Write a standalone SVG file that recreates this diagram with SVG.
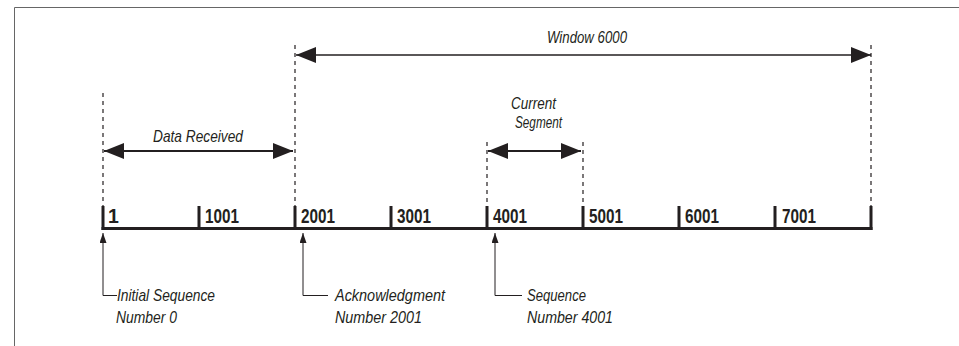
<svg xmlns="http://www.w3.org/2000/svg" width="959" height="346" viewBox="0 0 959 346">
<style>
.lbl{font-family:"Liberation Sans Narrow","Liberation Sans",Arial,sans-serif;font-style:italic;font-size:16.5px;fill:#231f20}
.num{font-family:"Liberation Sans Narrow","Liberation Sans",Arial,sans-serif;font-weight:bold;font-size:19.5px;fill:#231f20}
.dash{stroke:#231f20;stroke-width:1.2;stroke-dasharray:4,4;fill:none}
.span{stroke:#231f20;stroke-width:2;fill:none;marker-start:url(#big);marker-end:url(#big)}
.ptr{stroke:#231f20;stroke-width:1;fill:none;marker-start:url(#small)}
.tick{stroke:#231f20;stroke-width:3;fill:none}
</style>
<defs>
<marker id="big" markerUnits="userSpaceOnUse" markerWidth="20" markerHeight="16" refX="20" refY="8" orient="auto-start-reverse" viewBox="0 0 20 16">
<path d="M0,0 L20,8 L0,16 z" fill="#231f20"/>
</marker>
<marker id="small" markerUnits="userSpaceOnUse" markerWidth="10" markerHeight="7" refX="10" refY="3.5" orient="auto-start-reverse" viewBox="0 0 10 7">
<path d="M0,0 L10,3.5 L0,7 z" fill="#231f20"/>
</marker>
</defs>
<rect width="959" height="346" fill="#fff"/>
<path d="M14.5,346 V7.5 H959" stroke="#666" stroke-width="1" fill="none"/>
<g id="guides">
<line class="dash" x1="103" y1="93" x2="103" y2="206"/>
<line class="dash" x1="295" y1="45" x2="295" y2="206"/>
<line class="dash" x1="487" y1="142" x2="487" y2="206"/>
<line class="dash" x1="583" y1="142" x2="583" y2="206"/>
<line class="dash" x1="871" y1="45" x2="871" y2="206"/>
</g>
<g id="axis">
<line x1="101.5" y1="228.5" x2="872.5" y2="228.5" stroke="#231f20" stroke-width="3"/>
<path class="tick" d="M103,206V230 M199,206V230 M295,206V230 M391,206V230 M487,206V230 M583,206V230 M679,206V230 M775,206V230 M871,206V230"/>
<text class="num" x="108" y="222.5">1</text>
<text class="num" x="205" y="222.5" textLength="34" lengthAdjust="spacingAndGlyphs">1001</text>
<text class="num" x="301" y="222.5" textLength="34" lengthAdjust="spacingAndGlyphs">2001</text>
<text class="num" x="397" y="222.5" textLength="34" lengthAdjust="spacingAndGlyphs">3001</text>
<text class="num" x="493" y="222.5" textLength="34" lengthAdjust="spacingAndGlyphs">4001</text>
<text class="num" x="589" y="222.5" textLength="34" lengthAdjust="spacingAndGlyphs">5001</text>
<text class="num" x="685" y="222.5" textLength="34" lengthAdjust="spacingAndGlyphs">6001</text>
<text class="num" x="782" y="222.5" textLength="34" lengthAdjust="spacingAndGlyphs">7001</text>
</g>
<g id="connectors">
<line class="span" x1="296" y1="55" x2="871" y2="55" style="stroke-width:1.3"/>
<line class="span" x1="104" y1="151" x2="293" y2="151"/>
<line class="span" x1="488" y1="151" x2="581" y2="151"/>
<path class="ptr" d="M103,233 V295.5 H117"/>
<path class="ptr" d="M303,233 V295.5 H328"/>
<path class="ptr" d="M495,233 V295.5 H522"/>
</g>
<g id="window">
<text class="lbl" x="547" y="43" textLength="80" lengthAdjust="spacingAndGlyphs">Window 6000</text>
</g>
<g id="data-received">
<text class="lbl" x="153" y="142" textLength="90" lengthAdjust="spacingAndGlyphs">Data Received</text>
</g>
<g id="current-segment">
<text class="lbl" x="511" y="109" textLength="45" lengthAdjust="spacingAndGlyphs">Current</text>
<text class="lbl" x="515" y="128" textLength="47" lengthAdjust="spacingAndGlyphs">Segment</text>
</g>
<g id="initial-seq">
<text class="lbl" x="117" y="300.5" textLength="98" lengthAdjust="spacingAndGlyphs">Initial Sequence</text>
<text class="lbl" x="116" y="323" textLength="61" lengthAdjust="spacingAndGlyphs">Number 0</text>
</g>
<g id="ack">
<text class="lbl" x="335" y="300.5" textLength="110" lengthAdjust="spacingAndGlyphs">Acknowledgment</text>
<text class="lbl" x="335" y="323" textLength="87" lengthAdjust="spacingAndGlyphs">Number 2001</text>
</g>
<g id="seq">
<text class="lbl" x="527" y="300.5" textLength="59" lengthAdjust="spacingAndGlyphs">Sequence</text>
<text class="lbl" x="527" y="323" textLength="86" lengthAdjust="spacingAndGlyphs">Number 4001</text>
</g>
</svg>
